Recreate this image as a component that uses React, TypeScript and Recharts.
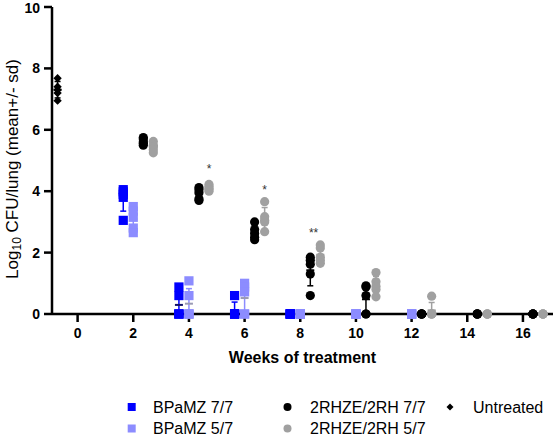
import React from 'react';
import { ScatterChart, Scatter, XAxis, YAxis, ErrorBar, Legend, Label } from 'recharts';

const FONT = 'Arial, "Liberation Sans", sans-serif';

// sampling weeks for each group
const untreatedWeeks = [0];
const bpamz77Weeks = [2, 4, 6, 8];
const bpamz57Weeks = [2, 4, 6, 8, 10, 12];
const rhzeWeeks = [2, 4, 6, 8, 10, 12, 14, 16];

// log10 CFU per lung, one inner array per time point (one value per mouse)
const untreated = [[7.68, 7.4, 7.3, 7.2, 6.95]];
const bpamz77 = [
  [4.05, 3.98, 3.9, 3.8, 3.05],
  [0.88, 0.6, 0, 0, 0],
  [0.6, 0, 0, 0, 0],
  [0, 0, 0, 0, 0],
];
const bpamz57 = [
  [3.5, 3.35, 3.15, 2.8, 2.65],
  [1.08, 0.6, 0, 0, 0],
  [1.0, 0.88, 0.72, 0, 0],
  [0, 0, 0, 0, 0],
  [0, 0, 0, 0, 0],
  [0, 0, 0, 0, 0],
];
const rhze77 = [
  [5.75, 5.7, 5.6, 5.55, 5.5],
  [4.12, 4.05, 3.95, 3.75, 3.7],
  [3.0, 2.75, 2.62, 2.5, 2.42],
  [1.85, 1.75, 1.62, 1.3, 0.6],
  [0.92, 0.88, 0.6, 0, 0],
  [0, 0, 0, 0, 0],
  [0, 0, 0, 0, 0],
  [0, 0, 0, 0, 0],
];
const rhze57 = [
  [5.62, 5.5, 5.45, 5.35, 5.25],
  [4.22, 4.15, 4.1, 4.05, 4.0],
  [3.66, 3.17, 3.05, 3.0, 2.68],
  [2.25, 2.15, 1.85, 1.75, 1.65],
  [1.35, 1.05, 0.9, 0.8, 0.56],
  [0.58, 0, 0, 0, 0],
  [0, 0, 0, 0, 0],
  [0, 0, 0, 0, 0],
];

// significance marks over the 5/7 RHZE groups
const sigX = [4.72, 6.72, 8.48];
const sigY = [4.71, 4.04, 2.64];
const sigText = ['*', '*', '**'];

const xTicks = [0, 2, 4, 6, 8, 10, 12, 14, 16];
const yTicks = [0, 2, 4, 6, 8, 10];

type Kind = 'square' | 'circle' | 'diamond';

interface Group {
  name: string;
  weeks: number[];
  values: number[][];
  color: string;
  meanColor: string;
  offset: number;
  kind: Kind;
}

const groups: Group[] = [
  { name: 'BPaMZ 7/7', weeks: bpamz77Weeks, values: bpamz77, color: '#0000ff', meanColor: '#10106a', offset: -0.36, kind: 'square' },
  { name: 'BPaMZ 5/7', weeks: bpamz57Weeks, values: bpamz57, color: '#8c8cff', meanColor: '#9a9ab4', offset: 0, kind: 'square' },
  { name: '2RHZE/2RH 7/7', weeks: rhzeWeeks, values: rhze77, color: '#000000', meanColor: '#000000', offset: 0.36, kind: 'circle' },
  { name: '2RHZE/2RH 5/7', weeks: rhzeWeeks, values: rhze57, color: '#a0a0a0', meanColor: '#8a8a8a', offset: 0.72, kind: 'circle' },
  { name: 'Untreated', weeks: untreatedWeeks, values: untreated, color: '#000000', meanColor: '#000000', offset: -0.72, kind: 'diamond' },
];

const points = (g: Group) =>
  g.weeks.flatMap((w, i) => g.values[i].map((v) => ({ x: w + g.offset, y: v })));

const summary = (g: Group) =>
  g.weeks
    .map((w, i) => {
      const vals = g.values[i];
      const mean = vals.reduce((s, v) => s + v, 0) / vals.length;
      const sd = Math.sqrt(vals.reduce((s, v) => s + (v - mean) ** 2, 0) / (vals.length - 1));
      return { x: w + g.offset, y: mean, err: [Math.min(sd, mean), sd] };
    })
    .filter((d) => d.err[1] > 0);

const marker = (kind: Kind, color: string, cx: number, cy: number, s: number) => {
  if (kind === 'square') return <rect x={cx - s} y={cy - s} width={s * 2} height={s * 2} fill={color} />;
  if (kind === 'circle') return <circle cx={cx} cy={cy} r={s} fill={color} />;
  return (
    <polygon
      points={`${cx},${cy - s} ${cx + s},${cy} ${cx},${cy + s} ${cx - s},${cy}`}
      fill={color}
    />
  );
};

const markerSize: Record<Kind, number> = { square: 4.6, circle: 4.6, diamond: 4.2 };

const YTitle = () => (
  <text
    transform="translate(12,169) rotate(-90)"
    textAnchor="middle"
    dominantBaseline="central"
    fontFamily={FONT}
    fontSize={17}
    fill="#000"
  >
    <tspan>Log</tspan>
    <tspan fontSize={12} dy={5}>10</tspan>
    <tspan dy={-5}> CFU/lung (mean+/- sd)</tspan>
  </text>
);

const legendCols = [
  { marker: 131.7, text: 153 },
  { marker: 287.5, text: 310 },
  { marker: 450, text: 473 },
];
const legendSlots = [
  { g: 0, col: 0, row: 0 },
  { g: 1, col: 0, row: 1 },
  { g: 2, col: 1, row: 0 },
  { g: 3, col: 1, row: 1 },
  { g: 4, col: 2, row: 0 },
];

const LegendBlock = () => (
  <svg width={553} height={75} style={{ display: 'block' }}>
    {legendSlots.map(({ g, col, row }) => {
      const grp = groups[g];
      const cy = 43 + row * 21.5;
      return (
        <g key={grp.name}>
          {marker(grp.kind, grp.color, legendCols[col].marker, cy, grp.kind === 'diamond' ? 3.5 : 4)}
          <text
            x={legendCols[col].text}
            y={cy}
            dominantBaseline="central"
            fontFamily={FONT}
            fontSize={16}
            fill="#000"
          >
            {grp.name}
          </text>
        </g>
      );
    })}
  </svg>
);

const axisStroke = { stroke: '#000', strokeWidth: 2.5 };

export default function App() {
  const sigData = sigX.map((x, i) => ({ x, y: sigY[i], label: sigText[i] }));
  return (
    <div style={{ width: 553, height: 439, background: '#fff' }}>
      <style>{'body{margin:0}'}</style>
      <ScatterChart width={553} height={439} margin={{ top: 7, right: 0, bottom: 0, left: 0 }}>
        <XAxis
          type="number"
          dataKey="x"
          domain={[-0.92, 17.08]}
          ticks={xTicks}
          height={50}
          tickSize={8}
          tickMargin={6}
          axisLine={axisStroke}
          tickLine={axisStroke}
          tick={{ fontFamily: FONT, fontSize: 14, fontWeight: 'bold', fill: '#000' }}
        >
          <Label
            content={(p: any) => (
              <text
                x={p.viewBox.x + p.viewBox.width / 2}
                y={p.viewBox.y + 43}
                textAnchor="middle"
                dominantBaseline="central"
                fontFamily={FONT}
                fontSize={16}
                fontWeight="bold"
                fill="#000"
              >
                Weeks of treatment
              </text>
            )}
          />
        </XAxis>
        <YAxis
          type="number"
          dataKey="y"
          domain={[0, 10]}
          ticks={yTicks}
          width={52}
          tickSize={8}
          tickMargin={4}
          axisLine={axisStroke}
          tickLine={axisStroke}
          tick={{ fontFamily: FONT, fontSize: 14, fontWeight: 'bold', fill: '#000' }}
        >
          <Label content={() => <YTitle />} />
        </YAxis>
        <Legend verticalAlign="bottom" content={() => <LegendBlock />} wrapperStyle={{ left: 0, bottom: 0 }} />

        {/* mean line with SD whiskers, drawn under the individual mice */}
        {groups.map((g) => (
          <Scatter
            key={`sd-${g.name}`}
            data={summary(g)}
            isAnimationActive={false}
            legendType="none"
            shape={(p: any) => (
              <line x1={p.cx - 4} x2={p.cx + 4} y1={p.cy} y2={p.cy} stroke={g.meanColor} strokeWidth={2} />
            )}
          >
            <ErrorBar dataKey="err" direction="y" width={3} stroke={g.color} strokeWidth={1.5} isAnimationActive={false} />
          </Scatter>
        ))}

        {groups.map((g) => (
          <Scatter
            key={g.name}
            name={g.name}
            data={points(g)}
            isAnimationActive={false}
            shape={(p: any) => marker(g.kind, g.color, p.cx, p.cy, markerSize[g.kind])}
          />
        ))}

        <Scatter
          data={sigData}
          isAnimationActive={false}
          legendType="none"
          shape={(p: any) => (
            <text x={p.cx} y={p.cy} textAnchor="middle" dominantBaseline="central" fontFamily={FONT} fontSize={12} fill="#333">
              {p.payload.label}
            </text>
          )}
        />
      </ScatterChart>
    </div>
  );
}
